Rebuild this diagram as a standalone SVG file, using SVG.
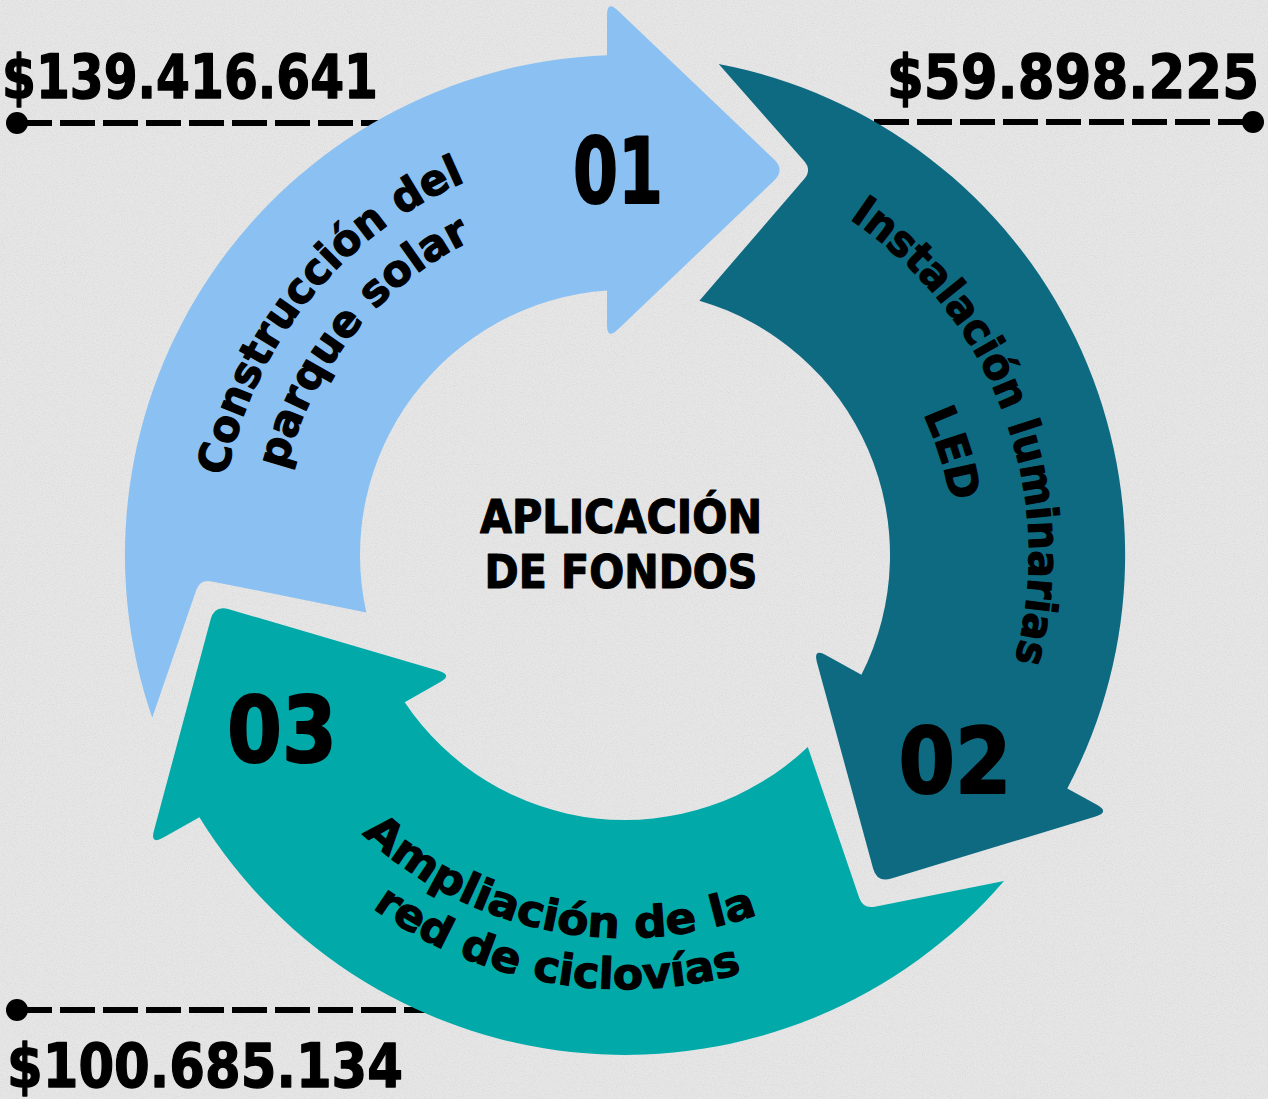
<svg xmlns="http://www.w3.org/2000/svg" width="1268" height="1099" viewBox="0 0 1268 1099">
<defs>
<style>
.lbl{font-family:"DejaVu Sans","Liberation Sans",sans-serif;font-weight:bold;fill:#000;stroke:#000;stroke-width:1.2;stroke-linejoin:round}
.money{font-size:61px;stroke-width:1.4}
.num{font-size:90px;stroke-width:2}
.ctr{font-size:46px;text-anchor:middle}
.arc{font-size:43px}
.lead{fill:none;stroke:#000;stroke-width:6;stroke-dasharray:35 8}
</style>
<filter id="grain" x="0" y="0" width="100%" height="100%">
<feTurbulence type="fractalNoise" baseFrequency="0.9" numOctaves="2" seed="3" result="n"/>
<feColorMatrix type="matrix" values="0 0 0 0 0.55  0 0 0 0 0.55  0 0 0 0 0.55  0 0 0 -2.2 1.25"/>
</filter>
<path id="pB1" d="M277,764.1 A406,406 0 0,1 757.2,171.1"/>
<path id="pB2" d="M325,735.3 A350,350 0 0,1 739,224.1"/>
<path id="pD1" d="M621.5,151 A404,404 0 0,1 887.4,862.2"/>
<path id="pD2" d="M640.5,225.4 A330,330 0 0,1 825,817.5"/>
<path id="pT1" d="M246.2,611.6 A383,383 0 0,0 951.5,755.1"/>
<path id="pT2" d="M197.6,630.4 A434,434 0 0,0 1000.9,772"/>
</defs>
<rect width="1268" height="1099" fill="#e6e6e6"/>
<rect width="1268" height="1099" filter="url(#grain)" opacity="0.35"/>

<g id="connectors">
<path class="lead" d="M17,123 H400"/>
<circle cx="17" cy="123" r="11"/>
<path class="lead" d="M1253,122 H860"/>
<circle cx="1253" cy="122" r="11"/>
<path class="lead" d="M17,1010 H450"/>
<circle cx="17" cy="1010" r="11"/>
</g>

<g id="step1">
<path fill="#8bc1f2" d="M152.2,717.8 A500,500 0 0,1 607,55.3 L607,15 Q607,0 617.8,10.4 L774.2,159.6 Q785,170 774.2,180.4 L617.8,329.6 Q607,340 607,325 L607,290.6 A265,265 0 0,0 366.3,612.4 L211.8,581.4 Q200,579 196.1,590.4 Z"/>
<text class="lbl num" x="618" y="203" text-anchor="middle" textLength="90" lengthAdjust="spacingAndGlyphs">01</text>
<text class="lbl arc"><textPath href="#pB1" startOffset="50%" text-anchor="middle" textLength="395" lengthAdjust="spacingAndGlyphs">Construcción del</textPath></text>
<text class="lbl arc"><textPath href="#pB2" startOffset="50%" text-anchor="middle" textLength="305" lengthAdjust="spacingAndGlyphs">parque solar</textPath></text>
</g>

<g id="step2">
<path fill="#0e6a80" d="M718.7,63.9 A500,500 0 0,1 1067.3,788.5 L1096.9,804.7 Q1110,812 1095.6,816.4 L891.4,878.6 Q877,883 873.1,868.5 L817,662.5 Q813,648 826.1,655.3 L861.4,674.8 A265,265 0 0,0 699.4,300.7 L804.2,179.1 Q812,170 804.1,161 Z"/>
<text class="lbl num" x="955" y="793" text-anchor="middle" textLength="113" lengthAdjust="spacingAndGlyphs">02</text>
<text class="lbl arc"><textPath href="#pD1" startOffset="50%" text-anchor="middle" textLength="505" lengthAdjust="spacingAndGlyphs">Instalación luminarias</textPath></text>
<text class="lbl arc"><textPath href="#pD2" startOffset="50%" text-anchor="middle">LED</textPath></text>
</g>

<g id="step3">
<path fill="#02a9a9" d="M1004,881 A500,500 0 0,1 199.4,817.3 L163,837.7 Q150,845 154,830.5 L210.6,619.5 Q214.5,605 228.9,609.2 L438.6,670.8 Q453,675 439.9,682.3 L404.7,702.2 A265,265 0 0,0 807.8,746.9 L859.1,897.6 Q863,909 874.8,906.7 Z"/>
<text class="lbl num" x="282" y="762" text-anchor="middle" textLength="110" lengthAdjust="spacingAndGlyphs">03</text>
<text class="lbl arc"><textPath href="#pT1" startOffset="50%" text-anchor="middle" textLength="425" lengthAdjust="spacingAndGlyphs">Ampliación de la</textPath></text>
<text class="lbl arc"><textPath href="#pT2" startOffset="50%" text-anchor="middle" textLength="388" lengthAdjust="spacingAndGlyphs">red de ciclovías</textPath></text>
</g>

<g id="center">
<text class="lbl ctr" x="621" y="533" textLength="282" lengthAdjust="spacingAndGlyphs">APLICACIÓN</text>
<text class="lbl ctr" x="621" y="588" textLength="273" lengthAdjust="spacingAndGlyphs">DE FONDOS</text>
</g>

<g id="amounts">
<text class="lbl money" x="2" y="98" textLength="376" lengthAdjust="spacingAndGlyphs">$139.416.641</text>
<text class="lbl money" x="887" y="98" textLength="372" lengthAdjust="spacingAndGlyphs">$59.898.225</text>
<text class="lbl money" x="7" y="1087" textLength="396" lengthAdjust="spacingAndGlyphs">$100.685.134</text>
</g>
</svg>
